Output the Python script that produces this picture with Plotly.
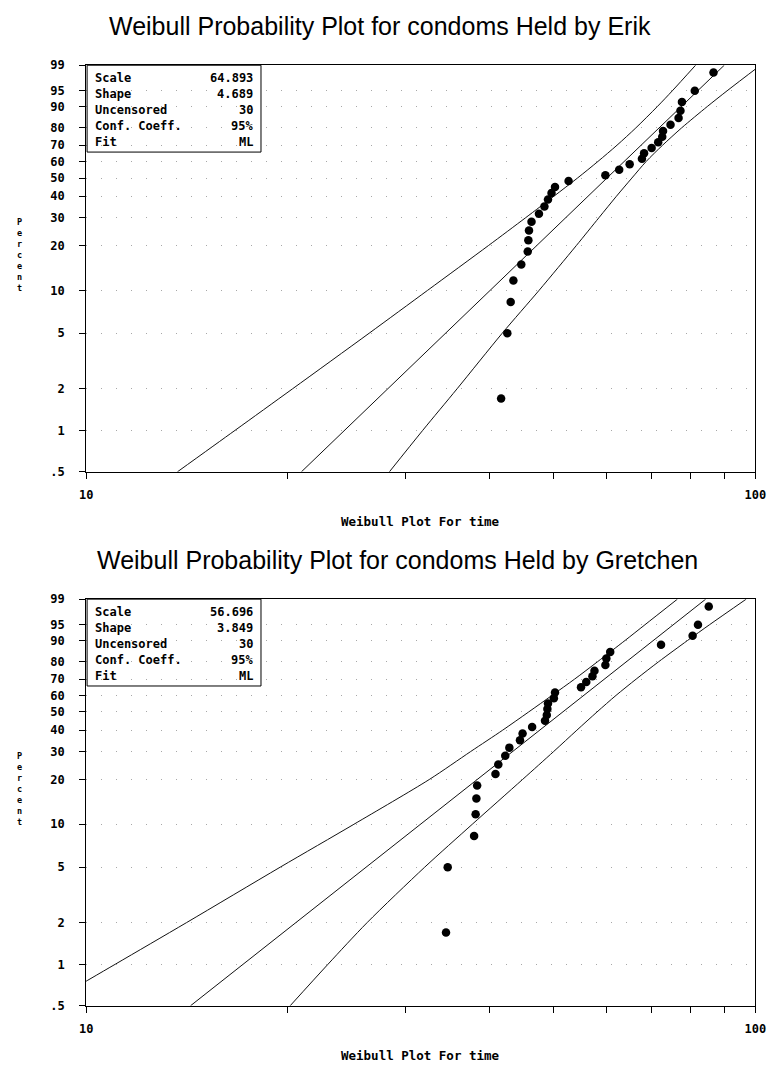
import numpy as np
import plotly.graph_objects as go

# ---------------- data ----------------
percent_ticks = [0.5, 1, 2, 5, 10, 20, 30, 40, 50, 60, 70, 80, 90, 95, 99]
percent_tick_labels = [".5", "1", "2", "5", "10", "20", "30", "40", "50",
                       "60", "70", "80", "90", "95", "99"]
x_tick_vals = [10, 100]
x_tick_labels = ["10", "100"]
x_minor_vals = [20, 30, 40, 50, 60, 70, 80, 90]

stat_labels = ["Scale", "Shape", "Uncensored", "Conf. Coeff.", "Fit"]
erik_stat_values = ["64.893", "4.689", "30", "95%", "ML"]
gretchen_stat_values = ["56.696", "3.849", "30", "95%", "ML"]

erik_scale, erik_shape = 64.893, 4.689
gretchen_scale, gretchen_shape = 56.696, 3.849

erik_time = [41.7, 42.6, 43.1, 43.5, 44.7, 45.7, 45.8, 45.9, 46.3, 47.5,
             48.4, 49.0, 49.6, 50.2, 52.6, 59.7, 62.6, 64.9, 67.7, 68.2,
             70.0, 71.6, 72.6, 72.8, 74.7, 76.8, 77.3, 77.7, 81.2, 86.6]
erik_pct = [1.7, 5.0, 8.3, 11.7, 15.0, 18.3, 21.7, 25.0, 28.3, 31.7,
            35.0, 38.3, 41.7, 45.0, 48.3, 51.7, 55.0, 58.3, 61.7, 65.0,
            68.3, 71.7, 75.0, 78.3, 81.7, 85.0, 88.3, 91.7, 95.0, 98.3]

gretchen_time = [34.5, 34.7, 38.0, 38.2, 38.3, 38.4, 40.9, 41.3, 42.3, 42.9,
                 44.5, 44.9, 46.4, 48.5, 48.8, 48.9, 49.0, 50.0, 50.2, 54.9,
                 55.9, 57.1, 57.5, 59.7, 59.9, 60.7, 72.3, 80.6, 82.1, 85.2]
gretchen_pct = [1.7, 5.0, 8.3, 11.7, 15.0, 18.3, 21.7, 25.0, 28.3, 31.7,
                35.0, 38.3, 41.7, 45.0, 48.3, 51.7, 55.0, 58.3, 61.7, 65.0,
                68.3, 71.7, 75.0, 78.3, 81.7, 85.0, 88.3, 91.7, 95.0, 98.3]

# confidence band curves (time value at each percent level)
band_pct = [0.5, 1, 2, 5, 10, 20, 30, 40, 50, 60, 70, 80, 90, 95, 99]
erik_band_upper = [13.69, 16.69, 20.35, 26.48, 32.38, 39.91, 45.38, 50.00,
                   54.23, 58.19, 62.14, 66.30, 71.39, 75.15, 81.43]
erik_band_lower = [28.39, 31.84, 35.84, 41.86, 47.52, 54.01, 58.39, 62.01,
                   65.39, 68.70, 72.70, 77.61, 84.77, 90.73, 101.8]
gretchen_band_upper = [8.65, 11.05, 14.12, 19.50, 25.13, 32.56, 37.54, 41.92,
                       45.84, 49.68, 53.70, 58.09, 63.88, 68.40, 76.49]
gretchen_band_lower = [20.18, 22.98, 26.29, 32.06, 37.76, 44.88, 49.95, 54.12,
                       58.00, 61.93, 66.37, 71.68, 79.21, 85.40, 96.92]

fit_pct_ends = [0.5, 99]

titles = ["Weibull Probability Plot for condoms Held by Erik",
          "Weibull Probability Plot for condoms Held by Gretchen"]
x_title = "Weibull Plot For time"
y_title = "Percent"


# Weibull probability axis transform
def wscale(pct):
    p = np.asarray(pct, dtype=float) / 100.0
    return np.log(-np.log(1.0 - p))


W, H = 779, 1070
MONO = "DejaVu Sans Mono"

fig = go.Figure()

panels = [
    dict(time=erik_time, pct=erik_pct, scale=erik_scale, shape=erik_shape,
         up=erik_band_upper, lo=erik_band_lower, stats=erik_stat_values,
         xa="x", ya="y", top=59, bottom=471, title_y=19, title_x=382,
         xlab_y=521, pct_y=251),
    dict(time=gretchen_time, pct=gretchen_pct, scale=gretchen_scale,
         shape=gretchen_shape, up=gretchen_band_upper, lo=gretchen_band_lower,
         stats=gretchen_stat_values, xa="x2", ya="y2", top=600, bottom=1012,
         title_y=560, title_x=400, xlab_y=1062, pct_y=792),
]

x_left, x_right = 81, 766
annotations = []
shapes = []

for i, pn in enumerate(panels):
    xa, ya = pn["xa"], pn["ya"]
    # fitted line (from scale / shape)
    wf = wscale(fit_pct_ends)
    xf = pn["scale"] * np.exp(wf / pn["shape"])
    fig.add_trace(go.Scatter(x=xf, y=wf, mode="lines", xaxis=xa, yaxis=ya,
                             line=dict(color="#111", width=1), hoverinfo="skip"))
    for band in (pn["up"], pn["lo"]):
        fig.add_trace(go.Scatter(x=band, y=wscale(band_pct), mode="lines",
                                 xaxis=xa, yaxis=ya,
                                 line=dict(color="#111", width=1, shape="spline",
                                           smoothing=0.8),
                                 hoverinfo="skip"))
    fig.add_trace(go.Scatter(x=pn["time"], y=wscale(pn["pct"]), mode="markers",
                             xaxis=xa, yaxis=ya,
                             marker=dict(color="black", size=8.5)))

    xd = "x domain" if xa == "x" else "x2 domain"
    yd = "y domain" if ya == "y" else "y2 domain"
    hgt = pn["bottom"] - pn["top"]

    def ydom(py, pn=pn, hgt=hgt):
        return (pn["bottom"] - py) / hgt

    def xdom(px):
        return (px - x_left) / (x_right - x_left)

    # stats box
    shapes.append(dict(type="rect", xref=xd, yref=yd, x0=xdom(82), x1=xdom(260),
                       y0=ydom(pn["top"] + 88), y1=1.0,
                       line=dict(color="black", width=1), fillcolor="rgba(0,0,0,0)"))
    row_y = [12.7, 29, 45, 62, 78]
    for lab, val, ry in zip(stat_labels, pn["stats"], row_y):
        annotations.append(dict(xref=xd, yref=yd, x=xdom(88), y=ydom(pn["top"] + ry),
                                text=lab, showarrow=False, xanchor="left",
                                yanchor="middle",
                                font=dict(family=MONO, size=12, color="black",
                                          weight="bold")))
        annotations.append(dict(xref=xd, yref=yd, x=xdom(254), y=ydom(pn["top"] + ry),
                                text=val, showarrow=False, xanchor="right",
                                yanchor="middle",
                                font=dict(family=MONO, size=12, color="black",
                                          weight="bold")))
    # title
    annotations.append(dict(xref="paper", yref="paper", x=pn["title_x"] / W,
                            y=1 - pn["title_y"] / H, text=titles[i],
                            showarrow=False, xanchor="center", yanchor="middle",
                            font=dict(family="Liberation Sans", size=25,
                                      color="black")))
    # x axis title
    annotations.append(dict(xref="paper", yref="paper",
                            x=(x_left + x_right) / 2 / W,
                            y=1 - pn["xlab_y"] / H, text=x_title,
                            showarrow=False, xanchor="center", yanchor="middle",
                            font=dict(family=MONO, size=12.5, color="black",
                                      weight="bold")))
    # vertical stacked y title (one text, letters stacked)
    annotations.append(dict(xref="paper", yref="paper", x=13 / W,
                            y=1 - pn["pct_y"] / H,
                            text="<br>".join(list(y_title)),
                            showarrow=False, xanchor="center", yanchor="middle",
                            align="center",
                            font=dict(family=MONO, size=8.5, color="black",
                                      weight="bold")))

xdomain = [x_left / W, x_right / W]
ax_common_x = dict(type="log", range=[1, 2], domain=xdomain,
                   tickmode="array", tickvals=x_tick_vals, ticktext=x_tick_labels,
                   ticks="outside", ticklen=6, tickwidth=1, tickcolor="black",
                   showline=True, linecolor="black", linewidth=1, mirror=True,
                   showgrid=False, zeroline=False, ticklabelstandoff=6,
                   tickfont=dict(family=MONO, size=12, color="black", weight="bold"),
                   minor=dict(tickmode="array", tickvals=x_minor_vals,
                              ticks="outside", ticklen=6, tickwidth=1,
                              tickcolor="black", showgrid=False))
yr = [float(wscale(percent_ticks[0])), float(wscale(percent_ticks[-1]))]
ax_common_y = dict(range=yr, tickmode="array",
                   tickvals=list(wscale(percent_ticks)),
                   ticktext=percent_tick_labels,
                   ticks="outside", ticklen=6, tickwidth=1, tickcolor="black",
                   showline=True, linecolor="black", linewidth=1, mirror=True,
                   showgrid=True, gridcolor="#a8a8a8", gridwidth=1,
                   griddash="1px,14px", zeroline=False,
                   ticklabelstandoff=12,
                   tickfont=dict(family=MONO, size=12, color="black", weight="bold"))

top = panels[0]
bot = panels[1]
fig.update_layout(
    width=W, height=H, margin=dict(l=0, r=0, t=0, b=0),
    plot_bgcolor="white", paper_bgcolor="white", showlegend=False,
    xaxis=dict(**ax_common_x, anchor="y"),
    yaxis=dict(**ax_common_y, anchor="x",
               domain=[1 - top["bottom"] / H, 1 - top["top"] / H]),
    xaxis2=dict(**ax_common_x, anchor="y2"),
    yaxis2=dict(**ax_common_y, anchor="x2",
                domain=[1 - bot["bottom"] / H, 1 - bot["top"] / H]),
    annotations=annotations, shapes=shapes,
)

fig.write_html(
    "out.html",
    config={"displayModeBar": False},
    post_script=("document.body.style.margin='0px';"
                 "document.body.style.padding='0px';"
                 "document.documentElement.style.overflow='hidden';"),
)
